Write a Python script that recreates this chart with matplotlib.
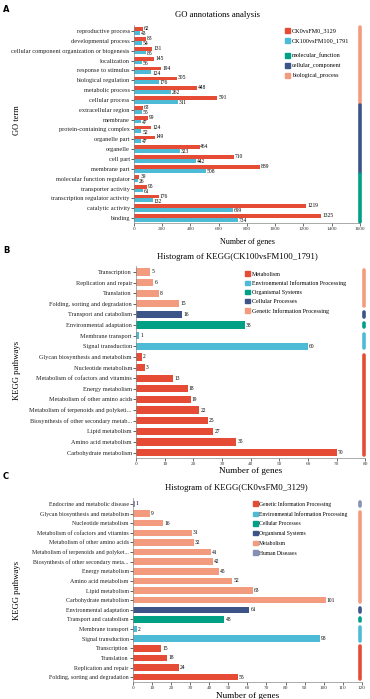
import numpy as np
import matplotlib
matplotlib.use("Agg")
import matplotlib.pyplot as plt
from matplotlib.patches import Patch

plt.rcParams["font.family"] = ["Liberation Serif", "DejaVu Serif"]

# ==== warna (palet NPG) ====
RED = "#E64B35"
CYAN = "#4DBBD5"
TEAL = "#00A087"
NAVY = "#3C5488"
SALMON = "#F39B7F"
LILAC = "#8491B4"

# ==== Data panel A (GO) ====
go_terms = ["reproductive process", "developmental process",
            "cellular component organization or biogenesis", "localization",
            "response to stimulus", "biological regulation", "metabolic process",
            "cellular process", "extracellular region", "membrane",
            "protein-containing complex", "organelle part", "organelle",
            "cell part", "membrane part", "molecular function regulator",
            "transporter activity", "transcription regulator activity",
            "catalytic activity", "binding"]
go_ck0 = [62, 83, 131, 145, 194, 305, 448, 591, 63, 99, 124, 149, 464, 710, 889,
          39, 95, 176, 1219, 1325]
go_ck100 = [43, 54, 85, 56, 124, 176, 262, 311, 55, 47, 52, 47, 323, 442, 508,
            26, 61, 132, 699, 734]
go_groups = [("biological_process", 0, 7), ("cellular_component", 8, 14),
             ("molecular_function", 15, 19)]

# ==== Data panel B (KEGG CK100vsFM100) ====
kb_terms = ["Transcription", "Replication and repair", "Translation",
            "Folding, sorting and degradation", "Transport and catabolism",
            "Environmental adaptation", "Membrane transport", "Signal transduction",
            "Glycan biosynthesis and metabolism", "Nucleotide metabolism",
            "Metabolism of cofactors and vitamins", "Energy metabolism",
            "Metabolism of other amino acids", "Metabolism of terpenoids and polyketi...",
            "Biosynthesis of other secondary metab...", "Lipid metabolism",
            "Amino acid metabolism", "Carbohydrate metabolism"]
kb_vals = [5, 6, 8, 15, 16, 38, 1, 60, 2, 3, 13, 18, 19, 22, 25, 27, 35, 70]
kb_cls = ["gen"] * 4 + ["cel", "org", "env", "env"] + ["met"] * 10
kb_colors = {"met": RED, "env": CYAN, "org": TEAL, "cel": NAVY, "gen": SALMON}
kb_names = {"met": "Metabolism", "env": "Environmental Information Processing",
            "org": "Organismal Systems", "cel": "Cellular Processes",
            "gen": "Genetic Information Processing"}
kb_order = ["met", "env", "org", "cel", "gen"]

# ==== Data panel C (KEGG CK0vsFM0) ====
kc_terms = ["Endocrine and metabolic disease", "Glycan biosynthesis and metabolism",
            "Nucleotide metabolism", "Metabolism of cofactors and vitamins",
            "Metabolism of other amino acids", "Metabolism of terpenoids and polyket...",
            "Biosynthesis of other secondary meta...", "Energy metabolism",
            "Amino acid metabolism", "Lipid metabolism", "Carbohydrate metabolism",
            "Environmental adaptation", "Transport and catabolism",
            "Membrane transport", "Signal transduction", "Transcription",
            "Translation", "Replication and repair", "Folding, sorting and degradation"]
kc_vals = [1, 9, 16, 31, 32, 41, 42, 45, 52, 63, 101, 61, 48, 2, 98, 15, 18, 24, 55]
kc_cls = ["hum"] + ["met"] * 10 + ["org", "cel", "env", "env"] + ["gen"] * 4
kc_colors = {"gen": RED, "env": CYAN, "cel": TEAL, "org": NAVY, "met": SALMON,
             "hum": LILAC}
kc_names = {"gen": "Genetic Information Processing",
            "env": "Environmental Information Processing",
            "cel": "Cellular Processes", "org": "Organismal Systems",
            "met": "Metabolism", "hum": "Human Diseases"}
kc_order = ["gen", "env", "cel", "org", "met", "hum"]

VAL = 4.0   # ukuran font angka di ujung bar


def style_axes(ax, n, xmax, xticks, lsize):
    ax.set_xlim(0, xmax)
    ax.set_ylim(n - 0.5, -0.6)
    ax.set_xticks(xticks)
    ax.tick_params(axis="x", labelsize=3.8, length=2, width=0.5, pad=1, colors="#333333")
    ax.tick_params(axis="y", labelsize=lsize, length=2, width=0.5, pad=1, colors="#222222")
    for s in ["top", "right"]:
        ax.spines[s].set_visible(False)
    for s in ["left", "bottom"]:
        ax.spines[s].set_linewidth(0.5)
        ax.spines[s].set_color("#888888")


def side_bar(ax, x, y0, y1, color):
    ax.plot([x, x], [y0 - 0.2, y1 + 0.2], color=color, lw=2.6,
            solid_capstyle="round", clip_on=False)


def side_bars_from_classes(ax, cls, colors, x):
    start = 0
    for i in range(1, len(cls) + 1):
        if i == len(cls) or cls[i] != cls[start]:
            side_bar(ax, x, start, i - 1, colors[cls[start]])
            start = i


def legend_kw(anchor, spacing, size=4.4):
    return dict(loc="upper left", bbox_to_anchor=anchor, frameon=False,
                fontsize=size, handlelength=0.8, handleheight=0.8,
                handletextpad=0.3, labelspacing=spacing, borderaxespad=0,
                borderpad=0)


fig = plt.figure(figsize=(3.7, 6.99), dpi=100)

# ---------------- Panel A ----------------
axA = fig.add_axes([0.362, 0.681, 0.611, 0.283])
y = np.arange(len(go_terms))
h = 0.38
axA.barh(y - h / 2, go_ck0, height=h, color=RED)
axA.barh(y + h / 2, go_ck100, height=h, color=CYAN)
for i in range(len(go_terms)):
    axA.text(go_ck0[i] + 6, y[i] - h / 2 - 0.05, str(go_ck0[i]), fontsize=VAL, va="center")
    axA.text(go_ck100[i] + 6, y[i] + h / 2 + 0.08, str(go_ck100[i]), fontsize=VAL, va="center")
axA.set_yticks(y)
axA.set_yticklabels(go_terms)
style_axes(axA, len(go_terms), 1600, range(0, 1601, 200), 4.6)
axA.set_xlabel("Number of genes", fontsize=5.8, labelpad=5)
axA.set_title("GO annotations analysis", fontsize=6.2, pad=6, x=0.37)
grp_col = {"biological_process": SALMON, "cellular_component": NAVY,
           "molecular_function": TEAL}
for name, a, b in go_groups:
    side_bar(axA, 1600, a - 0.25, b + 0.25, grp_col[name])
legA1 = axA.legend(handles=[Patch(color=RED, label="CK0vsFM0_3129"),
                            Patch(color=CYAN, label="CK100vsFM100_1791")],
                   **legend_kw((0.67, 0.985), 0.75))
axA.add_artist(legA1)
axA.legend(handles=[Patch(color=TEAL, label="molecular_function"),
                    Patch(color=NAVY, label="cellular_component"),
                    Patch(color=SALMON, label="biological_process")],
           **legend_kw((0.67, 0.86), 0.75))

# ---------------- Panel B ----------------
axB = fig.add_axes([0.368, 0.345, 0.619, 0.275])
y = np.arange(len(kb_terms))
axB.barh(y, kb_vals, height=0.68, color=[kb_colors[c] for c in kb_cls])
for i, v in enumerate(kb_vals):
    axB.text(v + 0.4, y[i], str(v), fontsize=VAL, va="center")
axB.set_yticks(y)
axB.set_yticklabels(kb_terms)
style_axes(axB, len(kb_terms), 80, range(0, 81, 10), 4.5)
axB.set_xlabel("Number of genes", fontsize=6.6, labelpad=1)
axB.set_title("Histogram of KEGG(CK100vsFM100_1791)", fontsize=6.3, pad=5, x=0.44)
side_bars_from_classes(axB, kb_cls, kb_colors, 79.6)
axB.legend(handles=[Patch(color=kb_colors[k], label=kb_names[k]) for k in kb_order],
           **legend_kw((0.475, 0.97), 0.62, 4.3))

# ---------------- Panel C ----------------
axC = fig.add_axes([0.359, 0.0243, 0.619, 0.263])
y = np.arange(len(kc_terms))
axC.barh(y, kc_vals, height=0.68, color=[kc_colors[c] for c in kc_cls])
for i, v in enumerate(kc_vals):
    axC.text(v + 0.6, y[i], str(v), fontsize=VAL, va="center")
axC.set_yticks(y)
axC.set_yticklabels(kc_terms)
style_axes(axC, len(kc_terms), 120, range(0, 121, 10), 4.3)
axC.set_xlabel("Number of genes", fontsize=6.6, labelpad=1)
axC.set_title("Histogram of KEGG(CK0vsFM0_3129)", fontsize=6.3, pad=6, x=0.45)
side_bars_from_classes(axC, kc_cls, kc_colors, 119)
axC.legend(handles=[Patch(color=kc_colors[k], label=kc_names[k]) for k in kc_order],
           **legend_kw((0.525, 0.985), 0.8, 4.1))

# label sumbu-y diletakkan di tepi kiri gambar
fig.text(0.046, 0.828, "GO term", fontsize=6, rotation=90, ha="center", va="center")
fig.text(0.046, 0.47, "KEGG pathways", fontsize=6.2, rotation=90, ha="center", va="center")
fig.text(0.046, 0.155, "KEGG pathways", fontsize=6.2, rotation=90, ha="center", va="center")

# huruf panel
for lab, yy in [("A", 0.993), ("B", 0.648), ("C", 0.325)]:
    fig.text(0.008, yy, lab, fontsize=6, fontweight="bold", family="DejaVu Sans",
             va="top")

fig.savefig("out.png", dpi=100)
